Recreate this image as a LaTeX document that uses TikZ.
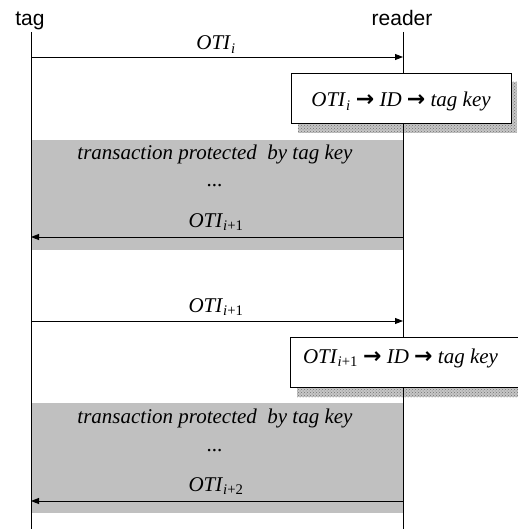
\documentclass[tikz,border=0pt]{standalone}
\usepackage{fontspec}
\setmainfont{Liberation Serif}
\newfontfamily\lanefont{Liberation Sans}
\newfontfamily\symfont{DejaVu Sans}
\usetikzlibrary{arrows.meta,patterns}

\newcommand{\oti}[1]{\textit{OTI}\textsubscript{#1}}
\newcommand{\goesto}{ {\symfont\bfseries\fontsize{22}{22}\selectfont →} }

\tikzset{
    lane/.style={font=\lanefont\fontsize{21}{24}\selectfont, anchor=base, inner sep=0pt},
    lbl/.style={font=\fontsize{21}{24}\selectfont, anchor=base, inner sep=0pt},
    msg/.style={line width=0.9pt, -{Triangle[length=8pt,width=6pt]}},
    lookup/.style={draw, line width=0.9pt, fill=white, minimum height=50pt, inner sep=0pt},
    shadowbox/.style={fill=gray!45, postaction={pattern=crosshatch dots, pattern color=gray!90!black}}
}

\begin{document}
\begin{tikzpicture}[x=1pt, y=-1pt]
    % Define colors
    \definecolor{band}{RGB}{192, 192, 192}

    % Picture frame
    \clip (0,0) rectangle (518,529);

    % Lane titles
    \node[lane] (tag) at (30,26) {tag};
    \node[lane] (reader) at (402,26) {reader};

    % Shadows of the lookup boxes
    \path[shadowbox] (298,82) rectangle (517,133);
    \path[shadowbox] (297,346) rectangle (540,397);

    % Protected transactions
    \fill[band] (31,140) rectangle (403,250);
    \fill[band] (31,403) rectangle (403,513);

    % Lifelines
    \coordinate (tagtop) at (31,32);
    \coordinate (tagend) at (31,529);
    \coordinate (readertop) at (403,32);
    \coordinate (readerend) at (403,529);
    \draw[line width=0.9pt] (tagtop) -- (tagend);
    \draw[line width=0.9pt] (readertop) -- (readerend);

    % Messages
    \coordinate (t1) at (31,57);   \coordinate (r1) at (403,57);
    \coordinate (t2) at (31,237);  \coordinate (r2) at (403,237);
    \coordinate (t3) at (31,321);  \coordinate (r3) at (403,321);
    \coordinate (t4) at (31,501);  \coordinate (r4) at (403,501);

    \draw[msg] (t1) -- (r1);
    \draw[msg] (r2) -- (t2);
    \draw[msg] (t3) -- (r3);
    \draw[msg] (r4) -- (t4);

    % Message labels
    \node[lbl] (m1) at (216,50) {\oti{\textit{i}}};
    \node[lbl] (m2) at (216,227) {\oti{\textit{i}+1}};
    \node[lbl] (m3) at (216,312) {\oti{\textit{i}+1}};
    \node[lbl] (m4) at (216,491) {\oti{\textit{i}+2}};

    % Lookup at the reader
    \node[lookup, minimum width=220pt] (look1) at (401,98) {};
    \node[lbl] (look1txt) at (401,107) {\oti{\textit{i}}\goesto\textit{ID}\goesto\textit{tag key}};
    \node[lookup, minimum width=240pt, anchor=west] (look2) at (290,362) {};
    \node[lbl] (look2txt) at (400.5,363) {\oti{\textit{i}+1}\goesto\textit{ID}\goesto\textit{tag key}};

    % Band texts
    \node[lbl] (prot1) at (215,160) {\textit{transaction protected\ \ by tag key}};
    \node[lbl] (dots1) at (215,187) {\textit{...}};
    \node[lbl] (prot2) at (215,423) {\textit{transaction protected\ \ by tag key}};
    \node[lbl] (dots2) at (215,451) {\textit{...}};

\end{tikzpicture}
\end{document}
